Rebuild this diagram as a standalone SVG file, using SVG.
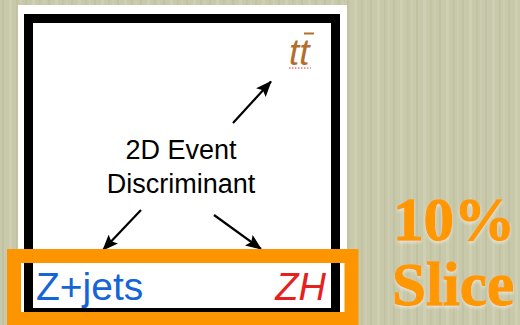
<svg xmlns="http://www.w3.org/2000/svg" width="520" height="325" viewBox="0 0 520 325">
  <defs>
    <pattern id="grain" width="23" height="325" patternUnits="userSpaceOnUse">
      <rect width="23" height="325" fill="#c8c8aa"/>
      <rect x="2" width="2" height="325" fill="#bdbd9e" opacity="0.6"/>
      <rect x="9" width="3" height="325" fill="#d3d3b9" opacity="0.6"/>
      <rect x="16" width="1.5" height="325" fill="#bbbb9b" opacity="0.5"/>
      <rect x="20" width="2" height="325" fill="#d0d0b5" opacity="0.5"/>
    </pattern>
    <marker id="arr" viewBox="0 0 16 13" refX="15" refY="6.5" markerWidth="16" markerHeight="13" orient="auto" markerUnits="userSpaceOnUse">
      <path d="M0,0 L16,6.5 L0,13 L3,6.5 Z" fill="#000"/>
    </marker>
    <filter id="glow" x="-10%" y="-10%" width="120%" height="130%">
      <feGaussianBlur in="SourceAlpha" stdDeviation="1.5"/>
      <feOffset dx="0" dy="2"/>
      <feComponentTransfer><feFuncR type="linear" slope="0" intercept="1"/><feFuncG type="linear" slope="0" intercept="1"/><feFuncB type="linear" slope="0" intercept="0.9"/><feFuncA type="linear" slope="0.5"/></feComponentTransfer>
      <feMerge><feMergeNode/><feMergeNode in="SourceGraphic"/></feMerge>
    </filter>
  </defs>
  <style>
    .lbl { font-family: "Liberation Sans", Arial, sans-serif; }
    .big { font-family: "Liberation Serif", "Times New Roman", serif; font-weight: bold; font-size: 61px; fill: #ff9800; stroke: #ff9800; stroke-width: 1.3; text-anchor: middle; }
    .conn { stroke: #000; stroke-width: 2.2; fill: none; marker-end: url(#arr); }
  </style>
  <rect width="520" height="325" fill="url(#grain)"/>
  <rect x="18" y="5" width="329" height="320" fill="#fff"/>
  <rect x="28.5" y="18.5" width="307" height="294" fill="#fff" stroke="#000" stroke-width="9"/>

  <g id="connectors">
    <line class="conn" x1="233" y1="123" x2="271" y2="81.5"/>
    <line class="conn" x1="141" y1="210" x2="103" y2="250"/>
    <line class="conn" x1="214" y1="215" x2="261" y2="249"/>
  </g>

  <g id="discriminant">
    <text class="lbl" x="181" y="159" font-size="27" text-anchor="middle" fill="#000">2D Event</text>
    <text class="lbl" x="181" y="192.5" font-size="27" text-anchor="middle" fill="#000">Discriminant</text>
  </g>

  <g id="ttbar">
    <text class="lbl" x="289" y="65" font-size="37" font-style="italic" fill="#b26e2c">tt</text>
    <line x1="304" y1="33.5" x2="314" y2="33.5" stroke="#b26e2c" stroke-width="2"/>
    <line x1="289" y1="68" x2="311" y2="68" stroke="#e83030" stroke-width="1.2" stroke-dasharray="1.5,1.5"/>
  </g>

  <g id="slice">
    <rect x="14" y="256" width="337.5" height="63" fill="none" stroke="#fd9500" stroke-width="14"/>
  </g>

  <g id="zjets">
    <text class="lbl" x="36" y="300" font-size="39" fill="#1565d6">Z+jets</text>
  </g>
  <g id="zh">
    <text class="lbl" x="326" y="300" font-size="38" font-style="italic" text-anchor="end" fill="#e6201f">ZH</text>
  </g>

  <g id="label" filter="url(#glow)">
    <text class="big" x="454" y="240">10%</text>
    <text class="big" x="453" y="305">Slice</text>
  </g>
</svg>
